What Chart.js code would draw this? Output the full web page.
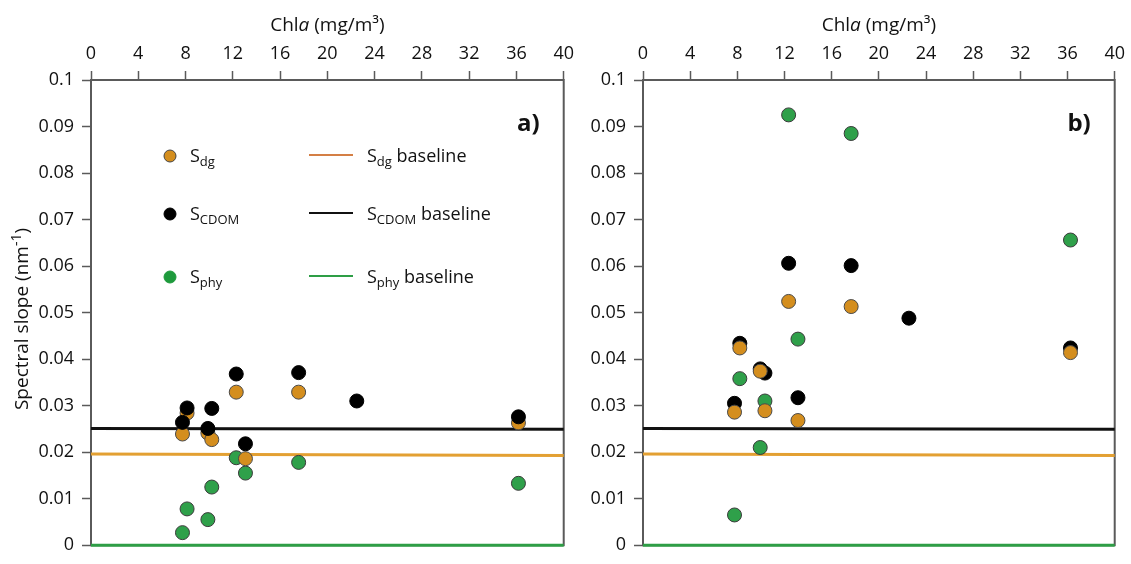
<!DOCTYPE html>
<html><head><meta charset="utf-8">
<script src="https://cdn.jsdelivr.net/npm/chart.js@4.4.0/dist/chart.umd.min.js"></script>
<style>
html,body{margin:0;padding:0;background:#fff;width:1131px;height:564px;overflow:hidden}
#wa{position:absolute;left:0;top:0;width:580px;height:564px}
#wb{position:absolute;left:580px;top:0;width:551px;height:564px}
</style></head><body>
<div id="wa"><canvas id="ca"></canvas></div>
<div id="wb"><canvas id="cb"></canvas></div>
<script>
// ---- data ----
const chlA = [7.74, 8.13, 9.89, 10.22, 12.29, 13.07, 17.57, 22.49, 36.17];
const cdomA = [0.0264, 0.0295, 0.0251, 0.0294, 0.0368, 0.0218, 0.0371, 0.0310, 0.0276];
const dgA   = [0.0239, 0.0284, 0.0241, 0.0227, 0.0329, 0.0186, 0.0329, null, 0.0263];
const phyA  = [0.0027, 0.0078, 0.0055, 0.0125, 0.0188, 0.0155, 0.0178, null, 0.0133];

const chlB = [7.76, 8.21, 9.94, 10.34, 12.35, 13.14, 17.65, 22.55, 36.25];
const cdomB = [0.0305, 0.0434, 0.0379, 0.0370, 0.0606, 0.0317, 0.0601, 0.0488, 0.0424];
const dgB   = [0.0286, 0.0424, 0.0374, 0.0289, 0.0524, 0.0268, 0.0513, null, 0.0414];
const phyB  = [0.0065, 0.0358, 0.0210, 0.0310, 0.0925, 0.0443, 0.0885, null, 0.0656];

const baseX = [0, 40];
const cdomBase = [0.0251, 0.0249];
const dgBase = [0.0196, 0.0193];
const phyBase = [0, 0];

const xTicks = [0, 4, 8, 12, 16, 20, 24, 28, 32, 36, 40];
const xTickLabels = ['0','4','8','12','16','20','24','28','32','36','40'];
const yTicks = [0, 0.01, 0.02, 0.03, 0.04, 0.05, 0.06, 0.07, 0.08, 0.09, 0.1];
const yTickLabels = ['0','0.01','0.02','0.03','0.04','0.05','0.06','0.07','0.08','0.09','0.1'];

// ---- styles ----
const FONT = "'Open Sans', 'Liberation Sans', sans-serif";
const C_ORANGE = '#D48E1E';
const C_GREEN = '#2FA04A';
const C_BLACK = '#000000';
const C_DGLINE = '#E3A032';
const C_GLINE = '#2E9E46';
const C_AXIS = '#5a5a5a';

function pts(xs, ys) {
  const out = [];
  xs.forEach((x, i) => { if (ys[i] !== null && ys[i] !== undefined) out.push({x: x, y: ys[i]}); });
  return out;
}

function drawRich(ctx, x, y, parts, size) {
  let cx = x;
  for (const p of parts) {
    const s = p.sub || p.sup ? Math.round(size * 0.72) : size;
    ctx.font = (p.bold ? 'bold ' : '') + (p.it ? 'italic ' : '') + s + 'px ' + FONT;
    const dy = p.sub ? size * 0.22 : (p.sup ? -size * 0.38 : 0);
    ctx.fillText(p.t, cx, y + dy);
    cx += ctx.measureText(p.t).width;
  }
  return cx - x;
}
function richWidth(ctx, parts, size) {
  let w = 0;
  for (const p of parts) {
    const s = p.sub || p.sup ? Math.round(size * 0.72) : size;
    ctx.font = (p.bold ? 'bold ' : '') + (p.it ? 'italic ' : '') + s + 'px ' + FONT;
    w += ctx.measureText(p.t).width;
  }
  return w;
}

function makePlugin(tag, withLegend, withYTitle) {
  return {
    id: 'deco' + tag,
    beforeDatasetsDraw(chart) {
      const ctx = chart.ctx, a = chart.chartArea;
      ctx.save();
      ctx.strokeStyle = C_AXIS;
      ctx.lineWidth = 2;
      ctx.strokeRect(a.left, a.top, a.right - a.left, a.bottom - a.top);
      ctx.restore();
    },
    afterDraw(chart) {
      const ctx = chart.ctx, a = chart.chartArea;
      ctx.save();
      ctx.fillStyle = '#111';
      ctx.textBaseline = 'alphabetic';
      // x title
      const xt = [{t: 'Chl'}, {t: 'a', it: true}, {t: ' (mg/m³)'}];
      const w = richWidth(ctx, xt, 19);
      drawRich(ctx, (a.left + a.right) / 2 - w / 2, 31, xt, 19);
      // panel label
      ctx.font = 'bold 24px ' + FONT;
      ctx.textAlign = 'right';
      ctx.fillText(tag + ')', a.right - 24, 131);
      ctx.textAlign = 'left';
      if (withYTitle) {
        ctx.save();
        ctx.translate(28, 319);
        ctx.rotate(-Math.PI / 2);
        const yt = [{t: 'Spectral slope (nm'}, {t: '-1', sup: true}, {t: ')'}];
        const yw = richWidth(ctx, yt, 19);
        drawRich(ctx, -yw / 2, 0, yt, 19);
        ctx.restore();
      }
      if (withLegend) {
        const rows = [
          {y: 156, fill: C_ORANGE, stroke: '#444', line: '#D47F45', sub: 'dg'},
          {y: 214, fill: C_BLACK, stroke: '#000', line: '#111', sub: 'CDOM'},
          {y: 277, fill: '#1E9A3C', stroke: '#1E9A3C', line: C_GLINE, sub: 'phy'}
        ];
        for (const r of rows) {
          ctx.beginPath();
          ctx.arc(170, r.y, 6, 0, Math.PI * 2);
          ctx.fillStyle = r.fill; ctx.fill();
          ctx.lineWidth = 1; ctx.strokeStyle = r.stroke; ctx.stroke();
          ctx.fillStyle = '#111';
          drawRich(ctx, 190, r.y + 6, [{t: 'S'}, {t: r.sub, sub: true}], 18);
          ctx.beginPath();
          ctx.moveTo(309, r.y - 1); ctx.lineTo(353, r.y - 1);
          ctx.strokeStyle = r.line; ctx.lineWidth = 2; ctx.stroke();
          ctx.fillStyle = '#111';
          drawRich(ctx, 367, r.y + 6, [{t: 'S'}, {t: r.sub, sub: true}, {t: ' baseline'}], 18);
        }
      }
      ctx.restore();
    }
  };
}

function scatterSet(xs, ys, fill, border, order) {
  return {
    type: 'scatter',
    data: pts(xs, ys),
    backgroundColor: fill,
    borderColor: border,
    borderWidth: 1,
    pointRadius: 7,
    pointHoverRadius: 7,
    order: order
  };
}
function lineSet(ys, color, width, order) {
  return {
    type: 'line',
    data: pts(baseX, ys),
    borderColor: color,
    borderWidth: width,
    pointRadius: 0,
    showLine: true,
    fill: false,
    clip: false,
    order: order
  };
}

function makeChart(id, tag, xs, cdom, dg, phy, yWidth, pad, orders, withLegend, withYTitle) {
  return new Chart(document.getElementById(id), {
    type: 'scatter',
    data: {
      datasets: [
        scatterSet(xs, cdom, C_BLACK, '#000', orders.cdom),
        scatterSet(xs, dg, C_ORANGE, '#4a4a4a', orders.dg),
        scatterSet(xs, phy, C_GREEN, '#3a3a3a', orders.phy),
        lineSet(cdomBase, '#111', 3, 10),
        lineSet(dgBase, C_DGLINE, 3, 11),
        lineSet(phyBase, C_GLINE, 3, 12)
      ]
    },
    options: {
      responsive: true,
      maintainAspectRatio: false,
      animation: false,
      events: [],
      layout: {padding: pad},
      plugins: {legend: {display: false}, tooltip: {enabled: false}},
      scales: {
        x: {
          type: 'linear', position: 'top', min: 0, max: 40,
          afterBuildTicks: s => { s.ticks = xTicks.map(v => ({value: v})); },
          afterFit: s => { s.height = 80; },
          ticks: {
            callback: (v, i) => xTickLabels[i],
            font: {family: FONT, size: 18}, color: '#111', padding: 6, maxRotation: 0, autoSkip: false
          },
          grid: {drawOnChartArea: false, drawTicks: true, tickLength: 9, tickWidth: 1.5, tickColor: C_AXIS},
          border: {display: false}
        },
        y: {
          type: 'linear', min: 0, max: 0.1,
          afterBuildTicks: s => { s.ticks = yTicks.map(v => ({value: v})); },
          afterFit: s => { s.width = yWidth; },
          ticks: {
            callback: (v, i) => yTickLabels[i],
            font: {family: FONT, size: 18}, color: '#111', padding: 8, autoSkip: false
          },
          grid: {drawOnChartArea: false, drawTicks: true, tickLength: 9, tickWidth: 1.5, tickColor: C_AXIS},
          border: {display: false}
        }
      }
    },
    plugins: [makePlugin(tag, withLegend, withYTitle)]
  });
}

makeChart('ca', 'a', chlA, cdomA, dgA, phyA, 91, {left: 0, top: 0, right: 12, bottom: 7},
  {cdom: 0, dg: 1, phy: 2}, true, true);
makeChart('cb', 'b', chlB, cdomB, dgB, phyB, 63, {left: 0, top: 0, right: 13, bottom: 8},
  {cdom: 2, dg: 0, phy: 1}, false, false);
</script>
</body></html>
